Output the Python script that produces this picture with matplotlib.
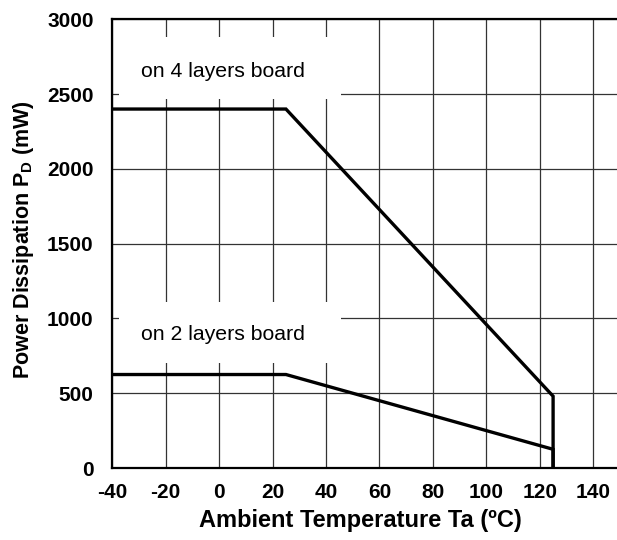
import matplotlib
matplotlib.use("Agg")
import matplotlib.pyplot as plt
from matplotlib.patches import Rectangle

plt.rcParams['font.family'] = ['Liberation Sans', 'DejaVu Sans']
plt.rcParams['axes.unicode_minus'] = False
plt.rcParams['mathtext.fontset'] = 'custom'
plt.rcParams['mathtext.rm'] = 'Liberation Sans'
plt.rcParams['mathtext.bf'] = 'Liberation Sans:bold'

# Derating curves: ambient temperature (degC) vs allowable power dissipation (mW)
temp_4layer = [-40, 25, 125, 125]
pd_4layer = [2400, 2400, 480, 0]
temp_2layer = [-40, 25, 125, 125]
pd_2layer = [625, 625, 125, 0]

x_ticks = [-40, -20, 0, 20, 40, 60, 80, 100, 120, 140]
y_ticks = [0, 500, 1000, 1500, 2000, 2500, 3000]

W, H = 617, 540
fig = plt.figure(figsize=(W / 100, H / 100), dpi=100)
ax = fig.add_axes([112.3 / W, 1 - 468 / H, (646.6 - 112.3) / W, (468 - 19.3) / H])

ax.set_xlim(-40, 160)
ax.set_ylim(0, 3000)
ax.set_xticks(x_ticks)
ax.set_yticks(y_ticks)
ax.set_axisbelow(True)
ax.grid(True, color='#333333', linewidth=0.9)

for side in ('top', 'left', 'bottom'):
    ax.spines[side].set_linewidth(1.6)
    ax.spines[side].set_color('black')
ax.spines['right'].set_visible(False)

ax.tick_params(axis='both', length=0, labelsize=15)
ax.tick_params(axis='x', pad=10.5)
ax.tick_params(axis='y', pad=13.5)
for lbl in ax.get_xticklabels() + ax.get_yticklabels():
    lbl.set_fontweight('bold')

# white panels behind the curve captions
ax.add_patch(Rectangle((-37.5, 2467), 83.1, 414, facecolor='white',
                       edgecolor='none', zorder=1))
ax.add_patch(Rectangle((-37.5, 704), 83.1, 408, facecolor='white',
                       edgecolor='none', zorder=1))

ax.plot(temp_4layer, pd_4layer, color='black', linewidth=2.4,
        solid_joinstyle='miter', zorder=3)
ax.plot(temp_2layer, pd_2layer, color='black', linewidth=2.4,
        solid_joinstyle='miter', zorder=3)

ax.text(-29.4, 2616, 'on 4 layers board', fontsize=15.3, ha='left',
        va='baseline', zorder=4)
ax.text(-29.4, 856, 'on 2 layers board', fontsize=15.3, ha='left',
        va='baseline', zorder=4)

fig.text(360 / W, 1 - 520 / H, 'Ambient Temperature Ta (ºC)',
         fontsize=17, fontweight='bold', ha='center', va='center')
fig.text(24 / W, 1 - 240 / H, r'Power Dissipation P$_\mathbf{D}$ (mW)',
         fontsize=15.5, fontweight='bold', ha='center', va='center',
         rotation=90)

fig.savefig('out.png', dpi=100)
